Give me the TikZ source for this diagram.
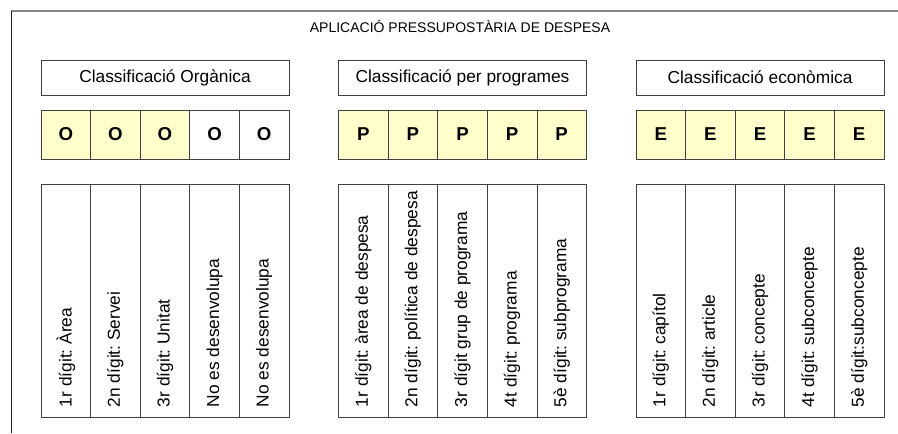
\documentclass[tikz,border=0pt]{standalone}
\usepackage{fontspec}
\setmainfont{Liberation Sans}
\usepackage{tikz}
\definecolor{budgetyellow}{HTML}{FFFFCC}
\definecolor{framegray}{HTML}{888888}
\definecolor{boxline}{HTML}{404040}
\frenchspacing

\begin{document}
\begin{tikzpicture}
		[
		x=0.75pt, y=-0.75pt,
		every node/.style={inner sep=0pt},
		headbox/.style={draw=boxline, line width=0.6pt, minimum width=186pt, minimum height=26.25pt, font=\fontsize{13}{15}\selectfont},
		digitbox/.style={draw=boxline, line width=0.6pt, minimum width=37.2pt, minimum height=36.75pt, font=\bfseries\fontsize{14}{16}\selectfont},
		descbox/.style={draw=boxline, line width=0.6pt, minimum width=37.2pt, minimum height=174.75pt},
		desctext/.style={rotate=90, anchor=west, font=\fontsize{13}{15}\selectfont}
		]
		\useasboundingbox (0,0) rectangle (898,433);
		% frame
		\draw[framegray, line width=1.5pt] (11,11) -- (898,11);
		\draw[black!85, line width=1.1pt] (11.5,11) -- (11.5,433);
		\node[font=\fontsize{10.5}{12}\selectfont] (title) at (460,26) {APLICACIÓ PRESSUPOSTÀRIA DE DESPESA};
		% headers
		\node[headbox] (head-org) at (165,77.5) {Classificació Orgànica};
		\node[headbox] (head-prog) at (462.5,77.5) {Classificació per programes};
		\node[headbox] (head-eco) at (760,77.5) {Classificació econòmica};
		% organica
		\foreach \i/\col in {0/budgetyellow,1/budgetyellow,2/budgetyellow,3/white,4/white}
			\node[digitbox, fill=\col] (org-\i) at (65.8+49.6*\i,134.5) {O};
		\foreach \i/\txt in {0/{1r dígit: Àrea},1/{2n dígit: Servei},2/{3r dígit: Unitat},3/{No es desenvolupa},4/{No es desenvolupa}}
		{
			\node[descbox] (orgdesc-\i) at (65.8+49.6*\i,300.5) {};
			\node[desctext] (orgtxt-\i) at ([yshift=7.5pt]orgdesc-\i.south) {\txt};
		}
		% programes
		\foreach \i in {0,...,4}
			\node[digitbox, fill=budgetyellow] (prog-\i) at (363.3+49.6*\i,134.5) {P};
		\foreach \i/\txt in {0/{1r dígit: àrea de despesa},1/{2n dígit: política de despesa},2/{3r dígit grup de programa},3/{4t dígit: programa},4/{5è dígit: subprograma}}
		{
			\node[descbox] (progdesc-\i) at (363.3+49.6*\i,300.5) {};
			\node[desctext] (progtxt-\i) at ([yshift=7.5pt]progdesc-\i.south) {\txt};
		}
		% economica
		\foreach \i in {0,...,4}
			\node[digitbox, fill=budgetyellow] (eco-\i) at (660.8+49.6*\i,134.5) {E};
		\foreach \i/\txt in {0/{1r dígit: capítol},1/{2n dígit: article},2/{3r dígit: concepte},3/{4t dígit: subconcepte},4/{5è dígit:subconcepte}}
		{
			\node[descbox] (ecodesc-\i) at (660.8+49.6*\i,300.5) {};
			\node[desctext] (ecotxt-\i) at ([yshift=7.5pt]ecodesc-\i.south) {\txt};
		}
\end{tikzpicture}
\end{document}
